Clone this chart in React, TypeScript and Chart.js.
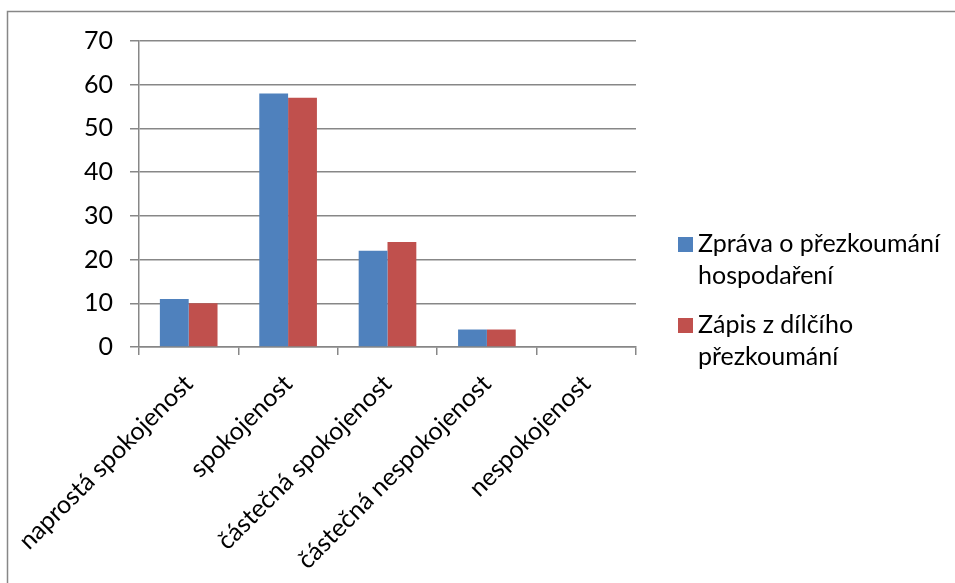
import React, { useEffect, useRef } from "react";
import { Chart, registerables } from "chart.js";

Chart.register(...registerables);

const categories = [
  "naprostá spokojenost",
  "spokojenost",
  "částečná spokojenost",
  "částečná nespokojenost",
  "nespokojenost",
];
const seriesNames = ["Zpráva o přezkoumání hospodaření", "Zápis z dílčího přezkoumání"];
const legendLines = [
  ["Zpráva o přezkoumání", "hospodaření"],
  ["Zápis z dílčího", "přezkoumání"],
];
const zpravaValues = [11, 58, 22, 4, 0];
const zapisValues = [10, 57, 24, 4, 0];
const colors = ["#4F81BD", "#C0504D"];
const yMin = 0;
const yMax = 70;
const yStep = 10;

const FONT_FAMILY = "Lato, 'Noto Sans', sans-serif";
const FONT_SIZE = 25;
const GRID = "#878787";

const frameAndLegend = {
  id: "frameAndLegend",
  beforeDraw(chart: any) {
    const ctx = chart.ctx;
    ctx.save();
    ctx.fillStyle = "#ffffff";
    ctx.fillRect(0, 0, chart.width, chart.height);
    ctx.strokeStyle = GRID;
    ctx.lineWidth = 1.5;
    ctx.strokeRect(7.5, 11.5, chart.width + 20, chart.height + 20);
    ctx.restore();
  },
  afterDraw(chart: any) {
    const ctx = chart.ctx;
    ctx.save();
    ctx.font = `${FONT_SIZE}px ${FONT_FAMILY}`;
    ctx.textBaseline = "alphabetic";
    ctx.textAlign = "left";
    const x0 = 678;
    const baselines = [252, 333];
    const lineGap = 32;
    legendLines.forEach((lines, i) => {
      const b = baselines[i];
      ctx.fillStyle = colors[i];
      ctx.fillRect(x0, b - 15, 15, 15);
      ctx.fillStyle = "#000000";
      lines.forEach((t, j) => ctx.fillText(t, x0 + 20, b + j * lineGap));
    });
    ctx.restore();
  },
};

export default function App() {
  const ref = useRef<HTMLCanvasElement>(null);
  useEffect(() => {
    if (!ref.current) return;
    const chart = new Chart(ref.current, {
      type: "bar",
      data: {
        labels: categories,
        datasets: [
          {
            label: seriesNames[0],
            data: zpravaValues,
            backgroundColor: colors[0],
            categoryPercentage: 0.58,
            barPercentage: 1,
          },
          {
            label: seriesNames[1],
            data: zapisValues,
            backgroundColor: colors[1],
            categoryPercentage: 0.58,
            barPercentage: 1,
          },
        ],
      },
      plugins: [frameAndLegend],
      options: {
        responsive: false,
        animation: false,
        layout: { padding: { top: 41, left: 0, right: 319, bottom: 0 } },
        plugins: {
          legend: { display: false },
          tooltip: { enabled: false },
        },
        scales: {
          x: {
            grid: {
              display: true,
              drawOnChartArea: false,
              drawTicks: true,
              tickLength: 8,
              color: GRID,
              lineWidth: 1.5,
              offset: true,
            },
            border: { display: true, color: GRID, width: 1.5 },
            ticks: {
              color: "#000000",
              font: { family: FONT_FAMILY, size: FONT_SIZE },
              minRotation: 45,
              maxRotation: 45,
              autoSkip: false,
              padding: 14,
            },
            afterFit: (scale: any) => {
              scale.height = 236;
              scale.paddingLeft = 0;
              scale.paddingRight = 0;
            },
          },
          y: {
            min: yMin,
            max: yMax,
            ticks: {
              stepSize: yStep,
              color: "#000000",
              font: { family: FONT_FAMILY, size: FONT_SIZE },
              padding: 17,
            },
            grid: {
              color: GRID,
              lineWidth: 1.5,
              tickLength: 9,
            },
            border: { display: true, color: GRID, width: 1.5 },
            afterFit: (scale: any) => {
              scale.width = 139;
              scale.paddingTop = 0;
              scale.paddingBottom = 0;
            },
          },
        },
      },
    });
    return () => chart.destroy();
  }, []);
  return (
    <div style={{ position: "absolute", left: 0, top: 0, width: 955, height: 583 }}>
      <canvas ref={ref} width={955} height={583} style={{ display: "block" }} />
    </div>
  );
}
